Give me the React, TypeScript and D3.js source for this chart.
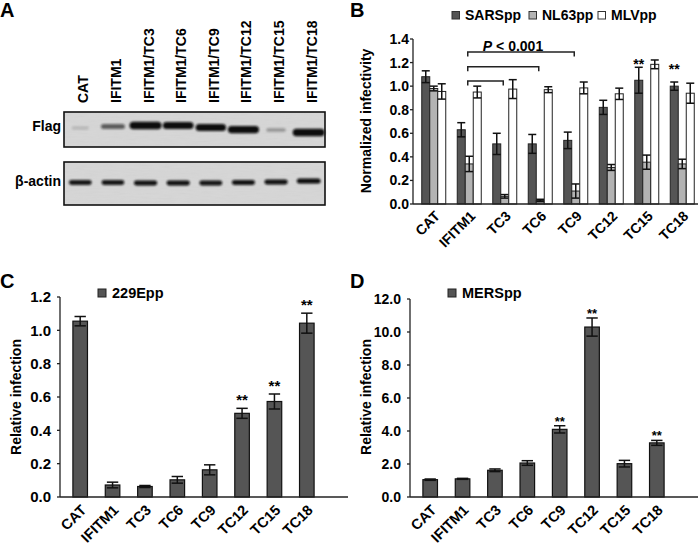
import * as d3 from "d3";

const FONT = "'Liberation Sans', Arial, Helvetica, sans-serif";
const DARK = "#555555";
const GRAY = "#b3b3b3";

// ---- panel A: western blot ----
const lanes = ["CAT", "IFITM1", "IFITM1/TC3", "IFITM1/TC6", "IFITM1/TC9", "IFITM1/TC12", "IFITM1/TC15", "IFITM1/TC18"];
const flagSignal = [0.06, 0.5, 1, 0.92, 0.9, 0.95, 0.22, 1];
const flagShift = [0, -1.5, -2.5, -2.5, -0.5, 1.5, 2, 4.5];
const actinSignal = [0.85, 0.85, 0.88, 0.88, 0.86, 0.87, 0.88, 0.9];
const actinShift = [0, 0, 0.5, 0.5, 0.5, 0, -0.5, -1.5];

// ---- panel B ----
const bCats = ["CAT", "IFITM1", "TC3", "TC6", "TC9", "TC12", "TC15", "TC18"];
const bSeries = ["SARSpp", "NL63pp", "MLVpp"];
const sars = [1.08, 0.63, 0.51, 0.51, 0.54, 0.82, 1.05, 1.0];
const sarsErr = [0.05, 0.06, 0.09, 0.08, 0.07, 0.06, 0.11, 0.035];
const nl63 = [0.98, 0.34, 0.065, 0.03, 0.11, 0.31, 0.355, 0.34];
const nl63Err = [0.02, 0.065, 0.015, 0.01, 0.06, 0.025, 0.06, 0.04];
const mlv = [0.955, 0.95, 0.975, 0.97, 0.985, 0.935, 1.185, 0.94];
const mlvErr = [0.065, 0.05, 0.08, 0.025, 0.05, 0.048, 0.037, 0.085];
const bTicks = [0, 0.2, 0.4, 0.6, 0.8, 1.0, 1.2, 1.4];
const bStars = [null, null, null, null, null, null, 1.207, 1.165];
const bBrackets = [
  { to: "TC9", at: 1.29 },
  { to: "TC6", at: 1.165 },
  { to: "TC3", at: 1.044 },
];

// ---- panel C ----
const cVals = [1.055, 0.072, 0.063, 0.103, 0.163, 0.502, 0.573, 1.043];
const cErr = [0.028, 0.017, 0.006, 0.02, 0.03, 0.03, 0.045, 0.06];
const cStars = [false, false, false, false, false, true, true, true];
const cTicks = [0, 0.2, 0.4, 0.6, 0.8, 1.0, 1.2];

// ---- panel D ----
const dVals = [1.05, 1.1, 1.62, 2.06, 4.1, 10.3, 2.02, 3.28];
const dErr = [0.04, 0.03, 0.08, 0.14, 0.22, 0.55, 0.2, 0.15];
const dStars = [false, false, false, false, true, true, false, true];
const dTicks = [0, 2, 4, 6, 8, 10, 12];

const fmt = d3.format(".1f");

function Blot({ y, h, signal, shift, bandY, widthBase, widthGain, thickBase, thickGain }: any) {
  const x = d3.scaleBand<number>().domain(d3.range(lanes.length)).range([64, 325]);
  return (
    <g>
      <rect x={64} y={y} width={261} height={h} fill="#d6d6d6" />
      <rect x={64} y={y} width={261} height={h} fill="#000" opacity={0.07} filter="url(#grain)" />
      {signal.map((s: number, i: number) => {
        const w = widthBase + widthGain * s;
        const t = thickBase + thickGain * s;
        const cx = x(i)! + x.bandwidth() / 2;
        return (
          <rect
            key={i}
            x={cx - w / 2}
            y={bandY + shift[i] - t / 2}
            width={w}
            height={t}
            rx={t / 2}
            fill="#0d0d0d"
            opacity={Math.min(1, 0.1 + s)}
            filter="url(#soft)"
          />
        );
      })}
      <rect x={64} y={y} width={261} height={h} fill="none" stroke="#111" strokeWidth={1.6} />
    </g>
  );
}

function PanelA() {
  const x = d3.scaleBand<number>().domain(d3.range(lanes.length)).range([64, 325]);
  return (
    <g fontFamily={FONT} fontWeight="bold">
      <text x={0} y={17} fontSize={20}>A</text>
      {lanes.map((l, i) => (
        <text key={l} transform={`translate(${x(i)! + x.bandwidth() / 2 + 8},103) rotate(-90)`} fontSize={14}>
          {l}
        </text>
      ))}
      <Blot y={112} h={35} signal={flagSignal} shift={flagShift} bandY={128}
        widthBase={16} widthGain={16} thickBase={2.5} thickGain={5} />
      <Blot y={162} h={43} signal={actinSignal} shift={actinShift} bandY={182.5}
        widthBase={4} widthGain={22} thickBase={1} thickGain={4.5} />
      <text x={61} y={131} fontSize={14} textAnchor="end">Flag</text>
      <text x={61} y={186} fontSize={14} textAnchor="end">β-actin</text>
    </g>
  );
}

function ErrBar({ x, y1, y2, cap }: { x: number; y1: number; y2: number; cap: number }) {
  return (
    <g stroke="#111" strokeWidth={1.5}>
      <line x1={x} x2={x} y1={y1} y2={y2} />
      <line x1={x - cap / 2} x2={x + cap / 2} y1={y1} y2={y1} />
      <line x1={x - cap / 2} x2={x + cap / 2} y1={y2} y2={y2} />
    </g>
  );
}

function YAxis({ y, ticks, x0, labelX, size }: any) {
  return (
    <g>
      <line x1={x0} x2={x0} y1={y(ticks[ticks.length - 1])} y2={y(0)} stroke="#222" strokeWidth={1.3} />
      {ticks.map((t: number) => (
        <g key={t}>
          <line x1={x0 - 3} x2={x0} y1={y(t)} y2={y(t)} stroke="#222" strokeWidth={1.3} />
          <text x={labelX} y={y(t)} dy="0.36em" textAnchor="end" fontSize={size}>{fmt(t)}</text>
        </g>
      ))}
    </g>
  );
}

function XLabels({ x, y0, dx, dy, size }: any) {
  return (
    <g>
      {bCats.map((c) => (
        <text key={c} transform={`translate(${x(c)! + x.bandwidth() / 2 + dx},${y0 + dy}) rotate(-45)`}
          textAnchor="end" fontSize={size}>
          {c}
        </text>
      ))}
    </g>
  );
}

function PanelB() {
  const y = d3.scaleLinear().domain([0, 1.4]).range([204, 39]);
  const x = d3.scaleBand().domain(bCats).range([416, 700]);
  const inner = d3.scaleBand().domain(bSeries).range([-12, 12]);
  const vals = [sars, nl63, mlv];
  const errs = [sarsErr, nl63Err, mlvErr];
  const fills = [DARK, GRAY, "#ffffff"];
  const cx = (c: string) => x(c)! + x.bandwidth() / 2;
  const legendX = [452, 529, 598];
  return (
    <g fontFamily={FONT} fontWeight="bold">
      <text x={350} y={17} fontSize={20}>B</text>
      {bSeries.map((s, k) => (
        <g key={s}>
          <rect x={legendX[k]} y={11.5} width={7.5} height={7.5} fill={fills[k]} stroke="#333" strokeWidth={1} />
          <text x={legendX[k] + 13} y={19.5} fontSize={14}>{s}</text>
        </g>
      ))}
      <text transform={`translate(366,121) rotate(-90)`} textAnchor="middle" dy="0.36em" fontSize={14}>
        Normalized infectivity
      </text>
      {bCats.map((c, i) => (
        <g key={c}>
          {bSeries.map((s, k) => {
            const bx = cx(c) + inner(s)!;
            return (
              <g key={s}>
                <rect x={bx} y={y(vals[k][i])} width={inner.bandwidth()} height={y(0) - y(vals[k][i])}
                  fill={fills[k]} stroke="#222" strokeWidth={1} />
                <ErrBar x={bx + inner.bandwidth() / 2} y1={y(vals[k][i] + errs[k][i])}
                  y2={y(vals[k][i] - errs[k][i])} cap={inner.bandwidth()} />
              </g>
            );
          })}
          {bStars[i] !== null && (
            <text x={cx(c) + inner("SARSpp")! + 4} y={y(bStars[i] as number) + 7.5} textAnchor="middle" fontSize={14}>
              **
            </text>
          )}
        </g>
      ))}
      {bBrackets.map((b) => {
        const x1 = cx("IFITM1") - 1.5;
        const x2 = cx(b.to) - 1.5;
        const yy = y(b.at);
        return (
          <path key={b.to} d={`M${x1},${yy + 4.5}V${yy}H${x2}V${yy + 4.5}`} fill="none" stroke="#222" strokeWidth={1.5} />
        );
      })}
      <text x={513} y={50.5} textAnchor="middle" fontSize={14}>
        <tspan fontStyle="italic">P</tspan> {"< 0.001"}
      </text>
      <YAxis y={y} ticks={bTicks} x0={413} labelX={409} size={14} />
      <line x1={413} x2={698} y1={y(0)} y2={y(0)} stroke="#222" strokeWidth={1.3} />
      <XLabels x={x} y0={y(0)} dx={7} dy={13} size={14} />
    </g>
  );
}

function SinglePanel({ letter, ox, legend, vals, errs, stars, ticks, range, starFont, starGap, tickSize }: any) {
  const y = d3.scaleLinear().domain([0, ticks[ticks.length - 1]]).range(range);
  const x = d3.scaleBand().domain(bCats).range([ox + 64, ox + 323]).paddingInner(0.55).paddingOuter(0.275);
  const axisX = ox + 60;
  return (
    <g fontFamily={FONT} fontWeight="bold">
      <text x={ox} y={288} fontSize={20}>{letter}</text>
      <rect x={ox + 98} y={289} width={8} height={8} fill={DARK} stroke="#222" strokeWidth={1} />
      <text x={ox + 112} y={298} fontSize={14.5}>{legend}</text>
      <text transform={`translate(${ox + 16},397) rotate(-90)`} textAnchor="middle" dy="0.36em" fontSize={14}>
        Relative infection
      </text>
      {bCats.map((c, i) => {
        const bx = x(c)!;
        const w = x.bandwidth();
        return (
          <g key={c}>
            <rect x={bx} y={y(vals[i])} width={w} height={y(0) - y(vals[i])} fill={DARK} stroke="#111" strokeWidth={1.2} />
            <ErrBar x={bx + w / 2} y1={y(vals[i] + errs[i])} y2={y(vals[i] - errs[i])} cap={w * 0.78} />
            {stars[i] && (
              <text x={bx + w / 2} y={y(vals[i] + errs[i]) - starGap} textAnchor="middle" fontSize={starFont}>**</text>
            )}
          </g>
        );
      })}
      <YAxis y={y} ticks={ticks} x0={axisX} labelX={axisX - 9} size={tickSize} />
      <line x1={axisX} x2={ox + 348} y1={y(0)} y2={y(0)} stroke="#222" strokeWidth={1.3} />
      <XLabels x={x} y0={y(0)} dx={7} dy={14} size={14.5} />
    </g>
  );
}

export default function App() {
  return (
    <svg width={700} height={546} style={{ position: "absolute", left: 0, top: 0, background: "#fff" }}>
      <defs>
        <filter id="soft" x="-30%" y="-100%" width="160%" height="300%">
          <feGaussianBlur stdDeviation="1.1" />
        </filter>
        <filter id="grain" x="0" y="0" width="100%" height="100%">
          <feTurbulence type="fractalNoise" baseFrequency="0.08 0.6" numOctaves="2" seed="3" />
          <feColorMatrix type="saturate" values="0" />
          <feComposite in2="SourceGraphic" operator="in" />
        </filter>
      </defs>
      <PanelA />
      <PanelB />
      <SinglePanel letter="C" ox={0} legend="229Epp" vals={cVals} errs={cErr} stars={cStars}
        ticks={cTicks} range={[497, 297]} starFont={15} starGap={3} tickSize={15} />
      <SinglePanel letter="D" ox={350} legend="MERSpp" vals={dVals} errs={dErr} stars={dStars}
        ticks={dTicks} range={[497, 299]} starFont={13} starGap={0} tickSize={14} />
    </svg>
  );
}
